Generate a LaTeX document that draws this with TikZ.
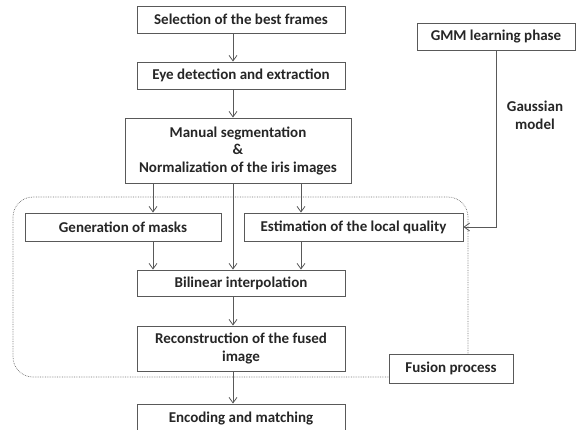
\documentclass[tikz,border=0pt]{standalone}
\usepackage{fontspec}
\setmainfont{Carlito}
\usetikzlibrary{arrows.meta}
\tikzstyle{block} = [draw=black!65, line width=0.9pt, fill=white, align=center, inner sep=0pt, text=black!85, font=\bfseries\fontsize{15}{17.5}\selectfont]
\tikzstyle{arrow} = [line width=0.8pt, draw=black!65, ->, >={Straight Barb[length=5.5pt,width=8pt]}]

\begin{document}
\begin{tikzpicture}[x=1pt,y=-1pt]
        \useasboundingbox (0,0) rectangle (577,430);
        % \draw[step=10pt,gray,very thin] (0,0) grid (577,430);
        \coordinate (lcol) at (153,0);
        \coordinate (mcol) at (233,0);
        \coordinate (rcol) at (301,0);
        % fusion area
        \draw[black!55, densely dotted, line width=0.7pt, rounded corners=20pt] (13,197) rectangle (468,377);
        \node[block, minimum width=208pt, minimum height=27pt] (select) at (241,19.5) {Selection of the best frames};
        \node[block, minimum width=208pt, minimum height=27pt] (eye) at (241,75.5) {Eye detection and extraction};
        \node[block, minimum width=226pt, minimum height=65pt] (manual) at (238,150.5) {Manual segmentation\\\&\\Normalization of the iris images};
        \node[block, minimum width=196pt, minimum height=28pt] (masks) at (123,227) {Generation of masks};
        \node[block, minimum width=219pt, minimum height=28pt] (quality) at (353.5,227) {Estimation of the local quality};
        \node[block, minimum width=208pt, minimum height=26pt] (bilinear) at (241,283) {Bilinear interpolation};
        \node[block, minimum width=208pt, minimum height=45pt] (recon) at (241,348.5) {Reconstruction of the fused\\image};
        \node[block, minimum width=208pt, minimum height=30pt] (coding) at (241,419) {Encoding and matching};
        \node[block, minimum width=158pt, minimum height=27pt] (gmm) at (496,36.5) {GMM learning phase};
        \node[block, minimum width=124pt, minimum height=29pt] (fusion) at (451,368.5) {Fusion process};
        \node[align=center, text=black!85, font=\bfseries\fontsize{15}{18}\selectfont] (gauss) at (535,115) {Gaussian\\model};
        \draw[arrow] (select.south -| mcol) -- (eye.north -| mcol);
        \draw[arrow] (eye.south -| mcol) -- (manual.north -| mcol);
        \draw[arrow] (manual.south -| lcol) -- (masks.north -| lcol);
        \draw[arrow] (manual.south -| mcol) -- (bilinear.north -| mcol);
        \draw[arrow] (manual.south -| rcol) -- (quality.north -| rcol);
        \draw[arrow] (masks.south -| lcol) -- (bilinear.north -| lcol);
        \draw[arrow] (quality.south -| rcol) -- (bilinear.north -| rcol);
        \draw[arrow] (bilinear.south -| mcol) -- (recon.north -| mcol);
        \draw[arrow] (recon.south -| mcol) -- (coding.north -| mcol);
        \draw[arrow] (gmm.south) |- (quality.east);
    \end{tikzpicture}
\end{document}
